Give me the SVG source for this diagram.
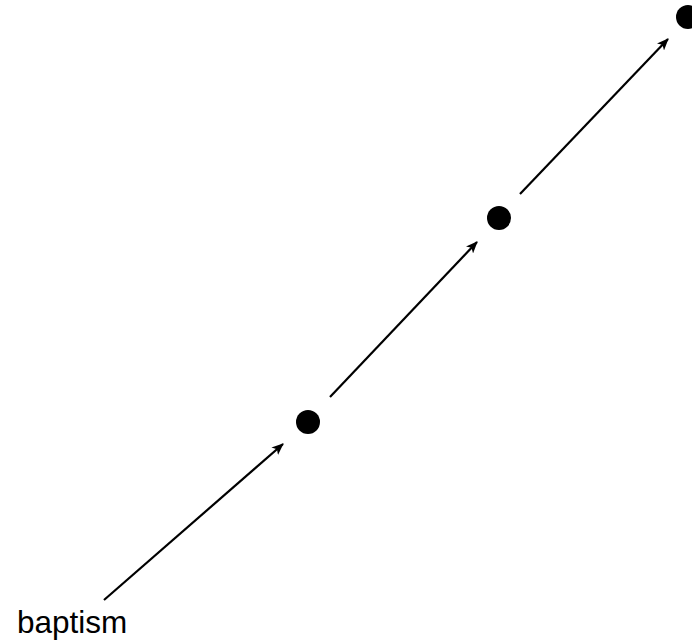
<svg xmlns="http://www.w3.org/2000/svg" width="692" height="642" viewBox="0 0 692 642">
<style>
.edge{stroke:#000;stroke-width:2.2;fill:none;marker-end:url(#ah)}
.node{fill:#000}
.lbl{font-family:"Liberation Sans",Arial,sans-serif;font-size:31.5px;fill:#000}
</style>
<defs>
<marker id="ah" markerWidth="12" markerHeight="10" refX="11" refY="5" orient="auto" markerUnits="userSpaceOnUse">
<path d="M0,0 L12,5 L0,10 L3,5 Z" fill="#000"/>
</marker>
</defs>
<rect width="692" height="642" fill="#fff"/>
<g id="connectors">
<line class="edge" x1="104" y1="600" x2="283" y2="444"/>
<line class="edge" x1="330" y1="397" x2="477" y2="242"/>
<line class="edge" x1="520" y1="194" x2="668" y2="39"/>
</g>
<g id="baptism"><text class="lbl" x="17" y="633">baptism</text></g>
<g id="n1"><circle class="node" cx="308" cy="422" r="12"/></g>
<g id="n2"><circle class="node" cx="499" cy="218" r="12"/></g>
<g id="n3"><circle class="node" cx="688" cy="17" r="12"/></g>
</svg>
